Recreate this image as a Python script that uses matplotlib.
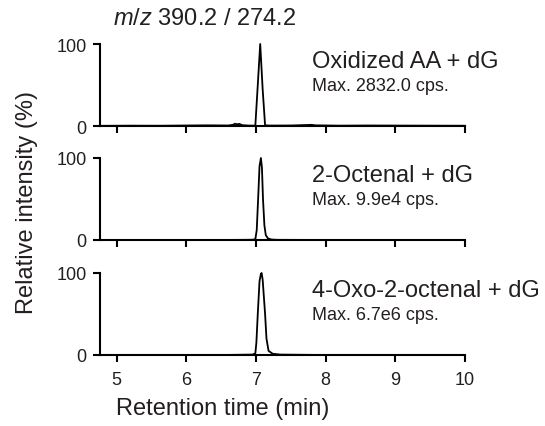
import matplotlib
matplotlib.use('Agg')
import matplotlib.pyplot as plt

plt.rcParams['font.family'] = ['Liberation Sans', 'DejaVu Sans']
plt.rcParams['mathtext.fontset'] = 'custom'
plt.rcParams['mathtext.rm'] = 'Liberation Sans'
plt.rcParams['mathtext.it'] = 'Liberation Sans:italic'
plt.rcParams['text.color'] = '#231f20'
plt.rcParams['xtick.labelcolor'] = '#231f20'
plt.rcParams['ytick.labelcolor'] = '#231f20'

# retention time (min) / relative intensity (%)
ox_t = [4.76, 5.2, 5.6, 6.0, 6.3, 6.6, 6.67, 6.70, 6.73, 6.76, 6.80, 6.9, 6.99,
        7.025, 7.06, 7.095, 7.13, 7.2, 7.5, 7.8, 7.85, 8.2, 8.6, 9.0, 9.5, 10.0]
ox_i = [0.2, 0.4, 0.3, 0.6, 0.8, 0.6, 1.5, 2.8, 2.0, 2.6, 1.0, 0.5, 0.4,
        50, 100, 45, 0.8, 0.5, 0.6, 1.4, 0.8, 0.4, 0.6, 0.5, 0.4, 0.3]

oct_t = [4.76, 6.5, 6.95, 6.99, 7.01, 7.03, 7.05, 7.07, 7.085, 7.10, 7.12,
         7.14, 7.17, 7.22, 7.3, 8.0, 10.0]
oct_i = [0, 0, 0.3, 1, 12, 50, 90, 100, 88, 50, 18, 6, 2, 0.6, 0.2, 0, 0]

oxo_t = [4.76, 6.5, 6.95, 6.99, 7.005, 7.025, 7.05, 7.07, 7.08, 7.095, 7.115,
         7.13, 7.15, 7.18, 7.24, 7.35, 8.0, 10.0]
oxo_i = [0, 0, 0.5, 2, 15, 50, 90, 99, 100, 92, 68, 50, 20, 5, 1.5, 0.5, 0, 0]

names = ['Oxidized AA + dG', '2-Octenal + dG', '4-Oxo-2-octenal + dG']
maxima = ['Max. 2832.0 cps.', 'Max. 9.9e4 cps.', 'Max. 6.7e6 cps.']
traces = [(ox_t, ox_i), (oct_t, oct_i), (oxo_t, oxo_i)]
x_ticks = [5, 6, 7, 8, 9, 10]

fig = plt.figure(figsize=(5.45, 4.27), dpi=100)

left, width, height = 100 / 545, 365 / 545, 82 / 427
bottoms = [1 - 127 / 427, 1 - 241 / 427, 1 - 356 / 427]

for k in range(3):
    ax = fig.add_axes([left, bottoms[k], width, height])
    t, y = traces[k]
    ax.plot(t, y, color='black', lw=1.3, clip_on=False, zorder=3)
    ax.set_xlim(4.76, 10.0)
    ax.set_ylim(0, 100)
    ax.set_yticks([0, 100])
    ax.set_xticks(x_ticks)
    for s in ['top', 'right']:
        ax.spines[s].set_visible(False)
    for s in ['left', 'bottom']:
        ax.spines[s].set_linewidth(1.5)
    ax.tick_params(axis='both', width=1.5, length=5, labelsize=13)
    ax.tick_params(axis='y', pad=4.5)
    ax.tick_params(axis='x', pad=6.5)
    if k < 2:
        ax.set_xticklabels([])
    ax.text(0.581, 0.72, names[k], transform=ax.transAxes, fontsize=17,
            va='baseline', ha='left')
    ax.text(0.581, 0.44, maxima[k], transform=ax.transAxes, fontsize=13,
            va='baseline', ha='left')

fig.text(113 / 545, 1 - 25 / 427, r'$\it{m/z}$ 390.2 / 274.2', fontsize=17,
         va='baseline', ha='left')
fig.text(27 / 545, 1 - 202 / 427, 'Relative intensity (%)', fontsize=17,
         rotation=90, va='center', ha='center')
fig.text(222.5 / 545, 1 - 415 / 427, 'Retention time (min)', fontsize=17,
         va='baseline', ha='center')

fig.savefig('out.png', dpi=100)
